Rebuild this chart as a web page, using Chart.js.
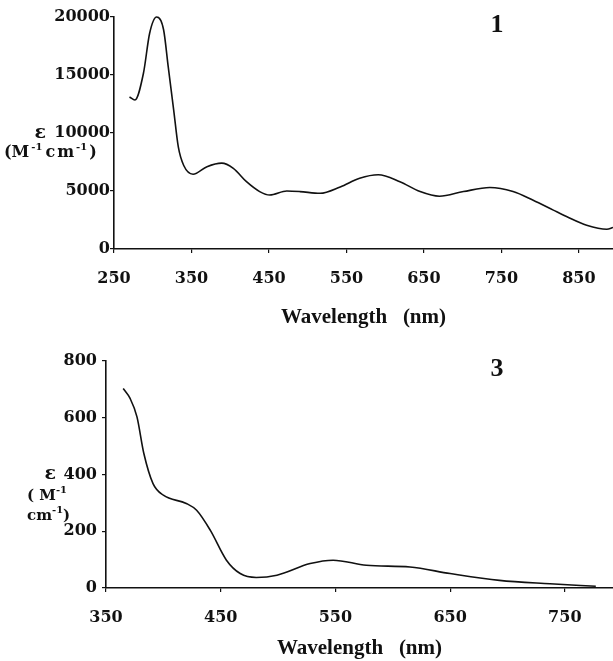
<!DOCTYPE html>
<html>
<head>
<meta charset="utf-8">
<script src="https://cdn.jsdelivr.net/npm/chart.js@4.4.1/dist/chart.umd.min.js"></script>
<style>
  html, body { margin: 0; padding: 0; background: #fff; }
  .panel { position: absolute; left: 0; width: 613px; }
</style>
</head>
<body>
<div class="panel" style="top:0;height:330px"><canvas id="spec-1" width="613" height="330"></canvas></div>
<div class="panel" style="top:330px;height:331px"><canvas id="spec-3" width="613" height="331"></canvas></div>
<script>
// compound 1
const wlTop = [270, 277, 288, 296, 305, 314, 320, 327, 333, 340, 352, 370, 389, 404, 421, 438, 451, 473, 490, 516,
  542, 567, 591, 619, 645, 670, 701, 735, 765, 791, 817, 834, 860, 886, 894]
const epsTop = [13100, 12850, 15150, 18600, 20000, 18900, 15700, 12000, 8800, 7200, 6450, 7100, 7400, 6950, 5800, 4950,
  4650, 5000, 4950, 4800, 5350, 6100, 6400, 5800, 4950, 4550, 4950, 5300, 4950, 4200, 3350, 2800, 2050, 1700, 1850]
const xTicksTop = [250, 350, 450, 550, 650, 750, 850]

// compound 3
const wlBot = [365, 371, 377, 383, 391, 400, 420, 429, 441, 455, 467, 481, 499, 528, 548, 577, 615, 650, 693, 737, 777]
const epsBot = [703, 668, 603, 474, 368, 327, 298, 274, 203, 98, 51, 37, 45, 86, 98, 80, 74, 51, 27, 15, 6]
const xTicksBot = [350, 450, 550, 650, 750]

const INK = '#111'
const tickFont = { family: 'DejaVu Serif', weight: 'bold', size: 16 }
const titleFont = { family: 'Liberation Serif', weight: 'bold', size: 21 }

// draws text with superscript pieces, left aligned, vertically centred on y
function drawRich(ctx, x, y, parts, size) {
  let cx = x
  parts.forEach(p => {
    const s = p.sup ? Math.round(size * 0.65) : size
    ctx.font = 'bold ' + s + 'px "DejaVu Serif"'
    ctx.fillText(p.t, cx, p.sup ? y - size * 0.38 : y)
    cx += ctx.measureText(p.t).width + (p.gap || 0)
  })
}

function makeLabels(cfg) {
  return {
    id: 'labels' + cfg.tag,
    afterDraw: chart => {
      const { ctx, chartArea, scales } = chart
      ctx.save()
      ctx.fillStyle = INK
      ctx.textBaseline = 'middle'
      // compound number
      ctx.textAlign = 'center'
      ctx.font = 'bold 26px "Liberation Serif"'
      ctx.fillText(cfg.tag, chartArea.right - 116, chartArea.top + 8)
      // epsilon label
      const yEps = scales.y.getPixelForValue(cfg.epsAt)
      ctx.textAlign = 'right'
      ctx.font = 'bold 19px "DejaVu Serif"'
      ctx.fillText('ε', cfg.epsX, yEps)
      ctx.textAlign = 'left'
      cfg.unitLines.forEach((line, i) => {
        drawRich(ctx, cfg.unitX, yEps + cfg.unitDy + i * 20, line, cfg.unitSize)
      })
      ctx.restore()
    },
  }
}

function makeChart(id, wl, eps, opts) {
  const ctx = document.getElementById(id).getContext('2d')
  return new Chart(ctx, {
    type: 'line',
    data: {
      datasets: [{
        data: wl.map((w, i) => ({ x: w, y: eps[i] })),
        borderColor: INK,
        borderWidth: 1.6,
        pointRadius: 0,
        fill: false,
        cubicInterpolationMode: 'monotone',
      }],
    },
    options: {
      responsive: false,
      animation: false,
      events: [],
      clip: false,
      layout: { padding: { top: opts.top, right: 0, bottom: 0, left: 0 } },
      plugins: { legend: { display: false }, tooltip: { enabled: false } },
      scales: {
        x: {
          type: 'linear',
          min: opts.xMin,
          max: opts.xMax,
          afterBuildTicks: s => { s.ticks = opts.xTicks.map(v => ({ value: v })) },
          afterFit: s => { s.height = opts.xHeight },
          ticks: { font: tickFont, color: INK, padding: 16, maxRotation: 0, callback: v => String(v) },
          grid: { drawOnChartArea: false, tickLength: 4, color: INK, lineWidth: 1.2 },
          border: { color: INK, width: 1.6 },
          title: { display: true, text: 'Wavelength   (nm)', font: titleFont, color: INK, padding: { top: 0, bottom: opts.titlePad } },
        },
        y: {
          min: 0,
          max: opts.yMax,
          afterFit: s => { s.width = opts.yWidth },
          ticks: { stepSize: opts.yStep, font: tickFont, color: INK, padding: opts.yPad, callback: v => String(v) },
          grid: { drawOnChartArea: false, tickLength: 4, color: INK, lineWidth: 1.2 },
          border: { color: INK, width: 1.6 },
        },
      },
    },
    plugins: [makeLabels(opts.labels)],
  })
}

makeChart('spec-1', wlTop, epsTop, {
  top: 17, xMin: 250, xMax: 894, xTicks: xTicksTop, xHeight: 81, titlePad: 0,
  yMax: 20000, yStep: 5000, yWidth: 114, yPad: 0,
  labels: {
    tag: '1', epsAt: 10000, epsX: 46, unitX: 4, unitDy: 20, unitSize: 16,
    unitLines: [[{ t: '(M', gap: 2 }, { t: '-1', sup: true, gap: 3 }, { t: 'c', gap: 2 }, { t: 'm', gap: 2 },
      { t: '-1', sup: true, gap: 2 }, { t: ')' }]],
  },
})

makeChart('spec-3', wlBot, epsBot, {
  top: 31, xMin: 350, xMax: 792, xTicks: xTicksBot, xHeight: 73, titlePad: 0,
  yMax: 800, yStep: 200, yWidth: 106, yPad: 5,
  labels: {
    tag: '3', epsAt: 400, epsX: 56, unitX: 27, unitDy: 22, unitSize: 15,
    unitLines: [[{ t: '( M' }, { t: '-1', sup: true }], [{ t: 'cm' }, { t: '-1', sup: true }, { t: ')' }]],
  },
})
</script>
</body>
</html>
